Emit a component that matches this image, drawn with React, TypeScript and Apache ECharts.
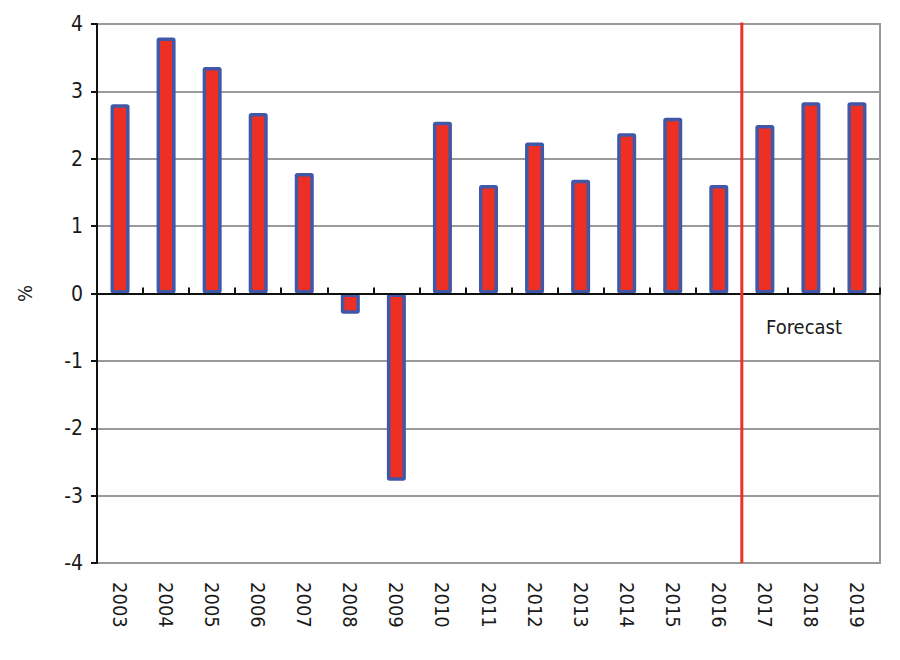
import React, { useEffect, useRef } from "react";
import * as echarts from "echarts";

const years = ["2003","2004","2005","2006","2007","2008","2009","2010","2011","2012","2013","2014","2015","2016","2017","2018","2019"];
const growth = [2.81, 3.8, 3.36, 2.68, 1.79, -0.3, -2.78, 2.55, 1.61, 2.24, 1.69, 2.38, 2.61, 1.61, 2.5, 2.84, 2.84];
const forecastStart = 14; // boundary index between 2016 and 2017
const forecastLabel = "Forecast";
const yName = "%";

const FONT = "'Liberation Sans Narrow', 'DejaVu Sans Condensed', 'Liberation Sans', sans-serif";

export default function App() {
  const ref = useRef<HTMLDivElement>(null);
  useEffect(() => {
    document.body.style.margin = "0";
    const chart = echarts.init(ref.current!, null, { renderer: "svg" });
    chart.setOption({
      animation: false,
      backgroundColor: "#ffffff",
      grid: { left: 97, right: 20, top: 24, bottom: 97, show: true, borderColor: "#9a9a9a", borderWidth: 2, backgroundColor: "transparent" },
      xAxis: [
        {
          type: "category",
          data: years,
          position: "bottom",
          axisLine: { onZero: true, lineStyle: { color: "#111", width: 2 } },
          axisTick: { show: true, inside: true, length: 6, lineStyle: { color: "#111", width: 2 } },
          axisLabel: { show: false },
          z: 5,
        },
        {
          type: "category",
          data: years,
          position: "bottom",
          axisLine: { show: false, onZero: false },
          axisTick: { show: false },
          axisLabel: { rotate: -90, margin: 19, fontFamily: FONT, fontSize: 20, color: "#1a1a1a" },
        },
        { type: "value", min: 0, max: 17, show: false },
      ],
      yAxis: [
        {
          type: "value",
          min: -4,
          max: 4,
          interval: 1,
          name: yName,
          nameLocation: "middle",
          nameGap: 62,
          nameRotate: 90,
          nameTextStyle: { fontFamily: FONT, fontSize: 20, color: "#1a1a1a" },
          axisLine: { show: true, lineStyle: { color: "#111", width: 2 } },
          axisTick: { show: true, length: 6, lineStyle: { color: "#111", width: 2 } },
          axisLabel: { margin: 14, fontFamily: FONT, fontSize: 21, color: "#1a1a1a" },
          splitLine: { lineStyle: { color: "#9a9a9a", width: 2 } },
        },
      ],
      series: [
        {
          type: "bar",
          xAxisIndex: 0,
          data: growth,
          barWidth: 19,
          itemStyle: { color: "#ee3024", borderColor: "#4157a8", borderWidth: 3.5, borderRadius: 1 },
          z: 3,
        },
        {
          type: "line",
          xAxisIndex: 2,
          yAxisIndex: 0,
          data: [[forecastStart, -4], [forecastStart, 4.03]],
          symbol: "none",
          lineStyle: { color: "#ee3024", width: 3 },
          z: 6,
        },
      ],
      graphic: [
        {
          type: "text",
          left: 766,
          top: 317,
          style: { text: forecastLabel, font: `20px ${FONT}`, fill: "#1a1a1a" },
        },
      ],
    });
    return () => chart.dispose();
  }, []);
  return <div ref={ref} style={{ width: 900, height: 660 }} />;
}
